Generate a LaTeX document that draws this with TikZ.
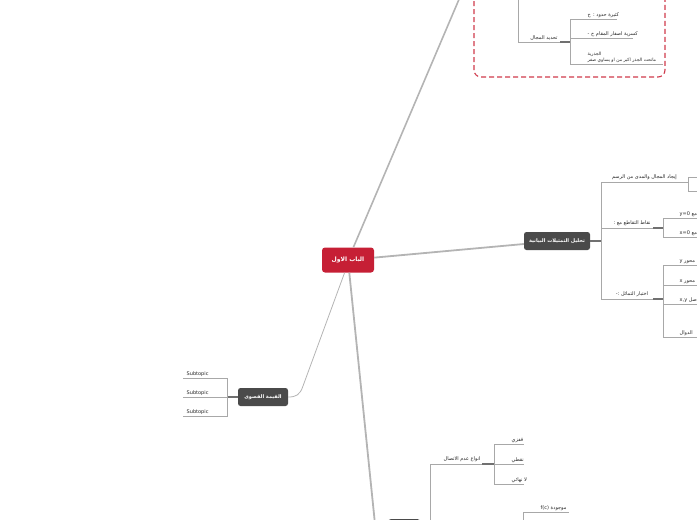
\documentclass[tikz,border=0pt]{standalone}
\usepackage{fontspec}
\setmainfont{DejaVu Sans}
\newfontfamily\arabicfont[Script=Arabic]{DejaVu Sans}
\TeXXeTstate=1
\usetikzlibrary{calc}
\newcommand{\ar}[1]{{\arabicfont\beginR #1\endR}}
\definecolor{mapred}{HTML}{C61F35}
\definecolor{mapdark}{HTML}{4A4A4A}
\definecolor{maingray}{HTML}{B4B4B4}
\definecolor{branchgray}{HTML}{A8A8A8}
\definecolor{jointgray}{HTML}{707070}
\definecolor{dashred}{HTML}{CF3A4C}
\definecolor{leaftext}{HTML}{262626}

\begin{document}
\begin{tikzpicture}[x=1pt, y=-1pt,
    central/.style = {fill=mapred, rounded corners=3pt, minimum width=52pt, minimum height=25pt, inner sep=1pt, text=white, font=\fontsize{6}{7}\selectfont\bfseries},
    topic/.style = {fill=mapdark, rounded corners=2.5pt, minimum height=18pt, inner sep=2pt, text=white, font=\fontsize{5}{6}\selectfont\bfseries},
    mainline/.style = {draw=maingray, line width=1.8pt},
    thinline/.style = {draw=maingray, line width=0.8pt},
    branch/.style = {draw=branchgray, line width=0.7pt},
    joint/.style = {draw=jointgray, line width=1.2pt},
    leaf/.style = {font=\fontsize{5}{6}\selectfont, text=leaftext, inner sep=0.5pt},
    boundary/.style = {draw=dashred, line width=1.1pt, dash pattern=on 5pt off 3pt, rounded corners=7pt}]
    \useasboundingbox (0,0) rectangle (697,520);
    \clip (0,0) rectangle (697,520);

    % boundary round the domain branch
    \draw[boundary] (474,-30) rectangle (665,77);

    % topics
    \node[central] (root) at (348,260) {\ar{الباب الاول}};
    \node[topic, minimum width=66pt] (graphs) at (557,241) {\ar{تحليل التمثيلات البيانية}};
    \node[topic, minimum width=50pt] (extrema) at (263,397) {\ar{القيمة القصوى}};
    \node[topic, minimum width=32pt, anchor=north west] (contin) at (388,519) {};

    % main branches
    \coordinate (topend) at (460,-3);
    \coordinate (lbend) at (303,386);
    \coordinate (bbend) at (375,524);
    \draw[mainline, line width=1.6pt] (root) -- (topend);
    \draw[mainline] (root) -- (graphs);
    \draw[thinline] (root.255) -- (lbend) .. controls (300,395) and (296,397) .. (extrema.east);
    \draw[mainline] (root) -- (bbend) .. controls (377,529) and (381,528) .. (contin.west);

    % domain branch (top)
    \coordinate (dtop) at (518,-5);
    \coordinate (dom) at (570,42);
    \draw[branch] (dtop) |- node[leaf, pos=0.75, above=1pt] {\ar{تحديد المجال}} (dom);
    \draw[joint] ($(dom)+(-10,0)$) -- (dom);
    \coordinate (dom1) at (617,19);
    \coordinate (dom2) at (633,38);
    \coordinate (dom3) at (663,64);
    \draw[branch] (dom) |- (dom1);
    \draw[branch] (dom) |- (dom2);
    \draw[branch] (dom) |- (dom3);
    \node[leaf, anchor=south west] (dom1t) at (587,18) {\ar{كثيرة حدود : ح}};
    \node[leaf, anchor=south west] (dom2t) at (587,37) {\ar{كسرية اصفار المقام ح -}};
    \node[leaf, anchor=south west, align=left, font=\fontsize{4.5}{5.5}\selectfont] (dom3t) at (587,63) {\ar{الجذرية}\\\ar{ماتحت الجذر اكبر من او يساوي صفر}};

    % graphs branch (right)
    \coordinate (gspine) at (601,241);
    \coordinate (g1) at (688,182);
    \coordinate (g2) at (663,228);
    \coordinate (g3) at (663,299);
    \draw[joint] (graphs.east) -- (gspine);
    \draw[branch] (gspine) |- node[leaf, pos=0.75, above=1pt] {\ar{إيجاد المجال والمدى من الرسم}} (g1);
    \draw[branch] (gspine) |- node[leaf, pos=0.75, above=1pt] {\ar{نقاط التقاطع مع :}} (g2);
    \draw[branch] (gspine) |- node[leaf, pos=0.75, above=1pt] {\ar{اختبار التماثل :-}} (g3);
    \draw[joint] ($(g2)+(-10,0)$) -- (g2);
    \draw[joint] ($(g3)+(-10,0)$) -- (g3);
    % range children
    \coordinate (g1a) at (700,177);
    \coordinate (g1b) at (700,191);
    \draw[branch] (g1) |- (g1a);
    \draw[branch] (g1) |- (g1b);
    % intercept children
    \coordinate (g2a) at (700,218);
    \coordinate (g2b) at (700,237);
    \draw[branch] (g2) |- (g2a);
    \draw[branch] (g2) |- (g2b);
    \node[leaf, anchor=south west] (g2at) at (679,217) {\ar{مع \beginL y=0\endL{}}};
    \node[leaf, anchor=south west] (g2bt) at (679,236) {\ar{مع \beginL x=0\endL{}}};
    % symmetry children
    \coordinate (g3a) at (700,265);
    \coordinate (g3b) at (700,285);
    \coordinate (g3c) at (700,304);
    \coordinate (g3d) at (700,337);
    \draw[branch] (g3) |- (g3a);
    \draw[branch] (g3) |- (g3b);
    \draw[branch] (g3) |- (g3c);
    \draw[branch] (g3) |- (g3d);
    \node[leaf, anchor=south west] (g3at) at (679,264) {\ar{محور \beginL y\endL{}}};
    \node[leaf, anchor=south west] (g3bt) at (679,284) {\ar{محور \beginL x\endL{}}};
    \node[leaf, anchor=south west] (g3ct) at (679,303) {\ar{الاصل \beginL x,y\endL{}}};
    \node[leaf, anchor=south west] (g3dt) at (679,336) {\ar{الدوال}};

    % extrema branch (left)
    \coordinate (espine) at (227,397);
    \draw[joint] (extrema.west) -- (espine);
    \foreach \yy/\nm in {378/e1, 397/e2, 416/e3} {
        \coordinate (\nm) at (183,\yy);
        \draw[branch] (espine) |- (\nm);
        \node[leaf, anchor=south west] (\nm t) at (186,\yy-1) {Subtopic};
    }

    % continuity branch (bottom)
    \coordinate (cspine) at (430,528);
    \coordinate (disc) at (494,464);
    \draw[joint] (contin.east) -- (cspine);
    \draw[branch] (cspine) |- node[leaf, pos=0.75, above=1pt] {\ar{انواع عدم الاتصال}} (disc);
    \draw[branch] (cspine) -- (430,540);
    \draw[joint] ($(disc)+(-12,0)$) -- (disc);
    \coordinate (disc1) at (524,444);
    \coordinate (disc2) at (524,464);
    \coordinate (disc3) at (524,484);
    \draw[branch] (disc) |- (disc1);
    \draw[branch] (disc) -- (disc2);
    \draw[branch] (disc) |- (disc3);
    \node[leaf, anchor=south west] (disc1t) at (511,443) {\ar{قفزي}};
    \node[leaf, anchor=south west] (disc2t) at (511,463) {\ar{نقطي}};
    \node[leaf, anchor=south west] (disc3t) at (511,483) {\ar{لا نهائي}};
    \coordinate (fc) at (569,512);
    \coordinate (fcspine) at (523,530);
    \draw[branch] (fcspine) |- (fc);
    \node[leaf, anchor=south west] (fct) at (540,511) {\ar{موجودة \beginL f(c)\endL{}}};
\end{tikzpicture}
\end{document}
